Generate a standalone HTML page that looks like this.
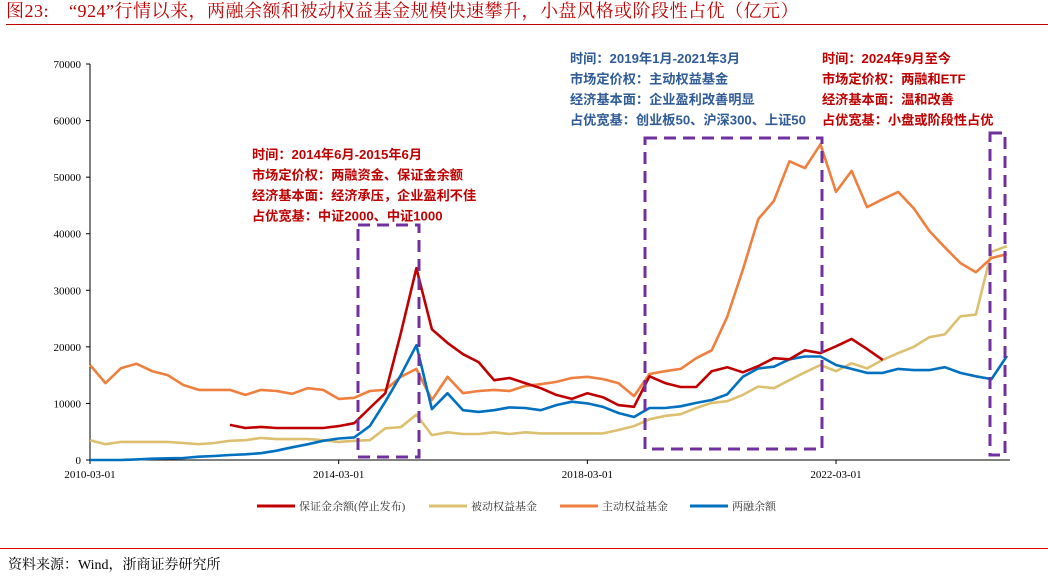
<!DOCTYPE html>
<html><head><meta charset="utf-8"><style>
html,body{margin:0;padding:0;background:#fff;}
body{width:1048px;height:578px;overflow:hidden;position:relative;font-family:"Liberation Serif","Noto Serif CJK SC",serif;}
.t{position:absolute;white-space:nowrap;}
</style></head><body>
<div class="t" style="left:6px;top:-3px;font-size:18px;letter-spacing:0.5px;color:#c00000;font-family:'Liberation Serif','Noto Serif CJK SC',serif;">图23:&nbsp;&nbsp;&nbsp;&nbsp;“924”行情以来，两融余额和被动权益基金规模快速攀升，小盘风格或阶段性占优（亿元）</div>
<div style="position:absolute;left:6px;top:24px;width:1042px;height:1px;background:#c00000;"></div>
<svg id="chart" width="1048" height="578" style="position:absolute;left:0;top:0;" xmlns="http://www.w3.org/2000/svg"></svg>
<div style="position:absolute;left:0;top:548px;width:1048px;height:1px;background:#e00000;"></div>
<div class="t" style="left:8px;top:554px;font-size:14px;color:#000;">资料来源：Wind，浙商证券研究所</div>
<script>
const months = [];
for (let i = 0; i < 60; i++) months.push(3 * i);
const redStart = 9;
const marginDeposit = [6200,5650,5850,5650,5650,5650,5650,6000,6500,9200,11800,22400,33900,23100,20700,18700,17300,14100,14500,13600,12700,11500,10800,11800,11100,9700,9400,14800,13600,12900,12900,15700,16400,15500,16600,18000,17800,19400,18900,20100,21400,19600,17700];
const passive = [3500,2800,3200,3200,3200,3200,3000,2800,3000,3400,3500,3900,3700,3700,3700,3500,3200,3400,3500,5600,5800,8000,4400,4900,4600,4600,4900,4600,4900,4700,4700,4700,4700,4700,5300,6000,7200,7800,8100,9200,10100,10400,11500,13000,12700,14100,15500,16800,15700,17100,16200,17700,18900,20000,21700,22200,25400,25700,36800,37800];
const active = [16800,13600,16250,17000,15700,15000,13250,12400,12400,12400,11500,12400,12200,11700,12700,12400,10800,11000,12200,12400,14700,16100,10600,14700,11800,12200,12400,12200,13100,13400,13800,14500,14700,14300,13600,11300,15200,15700,16100,18000,19400,25300,33600,42600,45800,52800,51600,55800,47400,51100,44700,46100,47400,44500,40500,37600,34800,33200,35700,36400];
const margin = [0,0,0,100,230,300,350,580,700,880,1000,1200,1650,2240,2770,3400,3800,4000,6000,10300,15000,20300,9000,11800,8800,8500,8800,9300,9200,8800,9700,10300,10000,9400,8300,7600,9200,9200,9500,10100,10600,11600,14700,16200,16500,17800,18300,18300,16800,16100,15400,15400,16100,15900,15900,16400,15400,14800,14300,18400];
const yTicks = [0,10000,20000,30000,40000,50000,60000,70000];
const xTickLabels = ["2010-03-01","2014-03-01","2018-03-01","2022-03-01"];
const xTickMonths = [0,48,96,144];

const svg = document.getElementById('chart');
const NS = 'http://www.w3.org/2000/svg';
const X0 = 90, X1 = 1007, Y0 = 460, Y1 = 64;
const xs = m => X0 + (X1 - X0) * m / 177;
const ys = v => Y0 - (Y0 - Y1) * v / 70000;
function mk(tag, attrs){const e=document.createElementNS(NS,tag);for(const k in attrs)e.setAttribute(k,attrs[k]);svg.appendChild(e);return e;}

const yAxis = mk('line',{x1:X0,y1:Y1,x2:X0,y2:Y0,stroke:'#000','stroke-width':1});


const xAxis = mk('line',{x1:X0,y1:Y0,x2:1010,y2:Y0,stroke:'#000','stroke-width':1});


yTicks.forEach(v=>{
  const tk = mk('line',{x1:X0-4,y1:ys(v),x2:X0,y2:ys(v),stroke:'#000'});
  
  
  const t = mk('text',{x:X0-9,y:ys(v)+4,'text-anchor':'end','font-size':11,'font-family':'Liberation Serif, serif',fill:'#000'});
  t.textContent = v;
  
  
});
xTickLabels.forEach((lab,i)=>{
  const x = xs(xTickMonths[i]);
  const tk = mk('line',{x1:x,y1:Y0,x2:x,y2:Y0+4,stroke:'#000'});
  
  
  const t = mk('text',{x:x,y:Y0+18,'text-anchor':'middle','font-size':11,'font-family':'Liberation Serif, serif',fill:'#000'});
  t.textContent = lab;
  
  
});
function series(vals, start, color, name){
  const pts = vals.map((v,i)=>xs(months[start+i]).toFixed(1)+','+ys(v).toFixed(1)).join(' ');
  const p = mk('polyline',{points:pts,fill:'none',stroke:color,'stroke-width':2.6,'stroke-linejoin':'round'});
  
  
}
series(passive,0,'#dcc070','passive-fund-line');
series(active,0,'#ee7f3e','active-fund-line');
series(margin,0,'#0070c0','margin-balance-line');
series(marginDeposit,redStart,'#c00000','margin-deposit-line');

function box(x1,y1,x2,y2,name){
  const r = mk('rect',{x:x1,y:y1,width:x2-x1,height:y2-y1,fill:'none',stroke:'#7030a0','stroke-width':3,'stroke-dasharray':'12,7'});
  
  
}
box(358,225,419,457,'box-2014');
box(645,138,822,449,'box-2019');
box(990,133,1005,455,'box-2024');

function note(x,y,lines,color,name){
  lines.forEach((s,i)=>{
    const t = mk('text',{x:x,y:y+i*20.5,'font-size':13.2,'font-weight':'bold','font-family':'Liberation Sans, Noto Sans CJK SC, sans-serif',fill:color});
    t.textContent = s;
    
    
  });
}
note(252,159,['时间：2014年6月-2015年6月','市场定价权：两融资金、保证金余额','经济基本面：经济承压，企业盈利不佳','占优宽基：中证2000、中证1000'],'#c00000','annotation-2014');
note(570,63,['时间：2019年1月-2021年3月','市场定价权：主动权益基金','经济基本面：企业盈利改善明显','占优宽基：创业板50、沪深300、上证50'],'#2f5b96','annotation-2019');
note(822,63,['时间：2024年9月至今','市场定价权：两融和ETF','经济基本面：温和改善','占优宽基：小盘或阶段性占优'],'#c00000','annotation-2024');

const legend = [['保证金余额(停止发布)','#c00000',257],['被动权益基金','#dcc070',429],['主动权益基金','#ee7f3e',560],['两融余额','#0070c0',690]];
legend.forEach(l=>{
  const ln = mk('line',{x1:l[2],y1:506,x2:l[2]+38,y2:506,stroke:l[1],'stroke-width':3});
  
  
  const t = mk('text',{x:l[2]+42,y:510,'font-size':11,'font-family':'Liberation Serif, Noto Serif CJK SC, serif',fill:'#333'});
  t.textContent = l[0];
  
  
});
</script>
</body></html>
